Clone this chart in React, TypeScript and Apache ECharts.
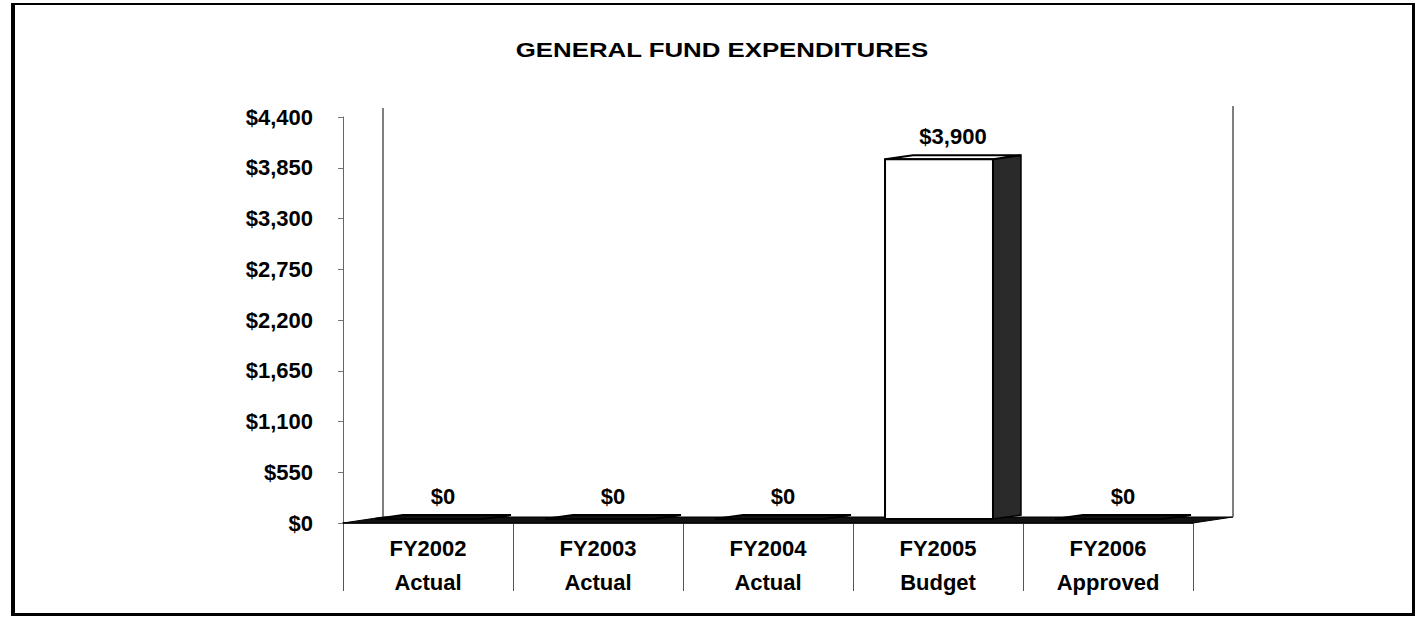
import React, { useEffect, useRef } from "react";
import * as echarts from "echarts";

const titleText = "GENERAL FUND EXPENDITURES";
const categories = ["FY2002\nActual", "FY2003\nActual", "FY2004\nActual", "FY2005\nBudget", "FY2006\nApproved"];
const expenditures = [0, 0, 0, 3900, 0];
const yMin = 0;
const yMax = 4400;
const yStep = 550;

const FONT = "Liberation Sans";
const FLOOR_DX = 40;
const FLOOR_DY = -6;
const BAR_DX = 28;
const BAR_DY = -4;
const LIFT = -4;

const money = (v: number) => "$" + Number(v).toLocaleString("en-US");

export default function App() {
  const ref = useRef<HTMLDivElement>(null);
  useEffect(() => {
    if (!ref.current) return;
    const chart = echarts.init(ref.current, null, { renderer: "svg" });
    const option: any = {
      animation: false,
      backgroundColor: "#ffffff",
      grid: { left: 343, top: 117, width: 850, height: 406, containLabel: false, outerBoundsMode: "none" },
      xAxis: {
        type: "category",
        data: categories,
        boundaryGap: true,
        axisLine: { show: true, lineStyle: { color: "#000", width: 1.5 } },
        axisTick: { show: true, length: 68, interval: 0, lineStyle: { color: "#555", width: 1 } },
        axisLabel: {
          interval: 0,
          margin: 8,
          color: "#000",
          fontFamily: FONT,
          fontWeight: "bold",
          fontSize: 22,
          lineHeight: 34,
        },
        splitLine: { show: false },
      },
      yAxis: {
        type: "value",
        min: yMin,
        max: yMax,
        interval: yStep,
        axisLine: { show: true, lineStyle: { color: "#666", width: 1 } },
        axisTick: { show: true, length: 5, lineStyle: { color: "#777", width: 1 } },
        axisLabel: {
          margin: 30,
          color: "#000",
          fontFamily: FONT,
          fontWeight: "bold",
          fontSize: 22,
          formatter: (v: number) => money(v),
        },
        splitLine: { show: false },
      },
      graphic: [
        {
          type: "text",
          x: 722,
          y: 50,
          scaleX: 1.23,
          style: {
            text: titleText,
            fill: "#000",
            font: `bold 21px "${FONT}"`,
            textAlign: "center",
            textVerticalAlign: "middle",
          },
        },
        { type: "rect", shape: { x: 11, y: 3, width: 4, height: 613 }, style: { fill: "#000" }, z: 100 },
        { type: "rect", shape: { x: 11, y: 3, width: 1404, height: 2 }, style: { fill: "#000" }, z: 100 },
        { type: "rect", shape: { x: 1412, y: 3, width: 3, height: 613 }, style: { fill: "#000" }, z: 100 },
        { type: "rect", shape: { x: 11, y: 613, width: 1404, height: 3 }, style: { fill: "#000" }, z: 100 },
      ],
      series: [
        {
          type: "custom",
          name: "floor",
          clip: false,
          silent: true,
          z: 1,
          data: [[0, 0]],
          encode: { x: 0, y: 1 },
          renderItem: (params: any, api: any) => {
            const cs = params.coordSys;
            const x = cs.x;
            const w = cs.width;
            const yb = cs.y + cs.height;
            const yt = cs.y;
            return {
              type: "group",
              children: [
                {
                  type: "polygon",
                  shape: {
                    points: [
                      [x, yb],
                      [x + FLOOR_DX, yb + FLOOR_DY],
                      [x + w + FLOOR_DX, yb + FLOOR_DY],
                      [x + w, yb],
                    ],
                  },
                  style: { fill: "#111", stroke: "#000", lineWidth: 1 },
                },
                {
                  type: "line",
                  shape: { x1: x + FLOOR_DX, y1: yb + FLOOR_DY, x2: x + FLOOR_DX, y2: yt - 9 },
                  style: { stroke: "#555", lineWidth: 1.5 },
                },
                {
                  type: "line",
                  shape: { x1: x + w + FLOOR_DX, y1: yb + FLOOR_DY, x2: x + w + FLOOR_DX, y2: yt - 11 },
                  style: { stroke: "#555", lineWidth: 1.5 },
                },
              ],
            };
          },
        },
        {
          type: "custom",
          name: "Expenditures",
          clip: false,
          z: 5,
          data: expenditures.map((v, i) => [i, v]),
          encode: { x: 0, y: 1 },
          renderItem: (params: any, api: any) => {
            const idx = api.value(0);
            const val = api.value(1);
            const top0 = api.coord([idx, val]);
            const base0 = api.coord([idx, 0]);
            const band = api.size([1, 0])[0];
            const w = band * 0.635;
            const cx = top0[0] + 1;
            const x0 = cx - w / 2;
            const x1 = cx + w / 2;
            const top = top0[1] + LIFT;
            const base = base0[1] + LIFT;
            const flat = val <= 0;
            return {
              type: "group",
              children: [
                {
                  type: "polygon",
                  shape: {
                    points: [
                      [x1, top],
                      [x1 + BAR_DX, top + BAR_DY],
                      [x1 + BAR_DX, base + BAR_DY],
                      [x1, base],
                    ],
                  },
                  style: { fill: "#2a2a2a", stroke: "#000", lineWidth: 1.5 },
                },
                {
                  type: "polygon",
                  shape: {
                    points: [
                      [x0, top],
                      [x0 + BAR_DX, top + BAR_DY],
                      [x1 + BAR_DX, top + BAR_DY],
                      [x1, top],
                    ],
                  },
                  style: { fill: flat ? "#111" : "#fff", stroke: "#000", lineWidth: 2 },
                },
                {
                  type: "rect",
                  shape: { x: x0, y: top, width: w, height: Math.max(base - top, 0) },
                  style: { fill: "#fff", stroke: "#000", lineWidth: 2 },
                },
                {
                  type: "text",
                  x: cx + BAR_DX / 2,
                  y: top + BAR_DY - 8,
                  style: {
                    text: money(val),
                    fill: "#000",
                    font: `bold 22px "${FONT}"`,
                    textAlign: "center",
                    textVerticalAlign: "bottom",
                  },
                },
              ],
            };
          },
        },
      ],
    };
    chart.setOption(option);
    return () => chart.dispose();
  }, []);
  return (
    <div
      ref={ref}
      style={{ position: "absolute", left: 0, top: 0, width: 1419, height: 619, background: "#fff" }}
    />
  );
}
